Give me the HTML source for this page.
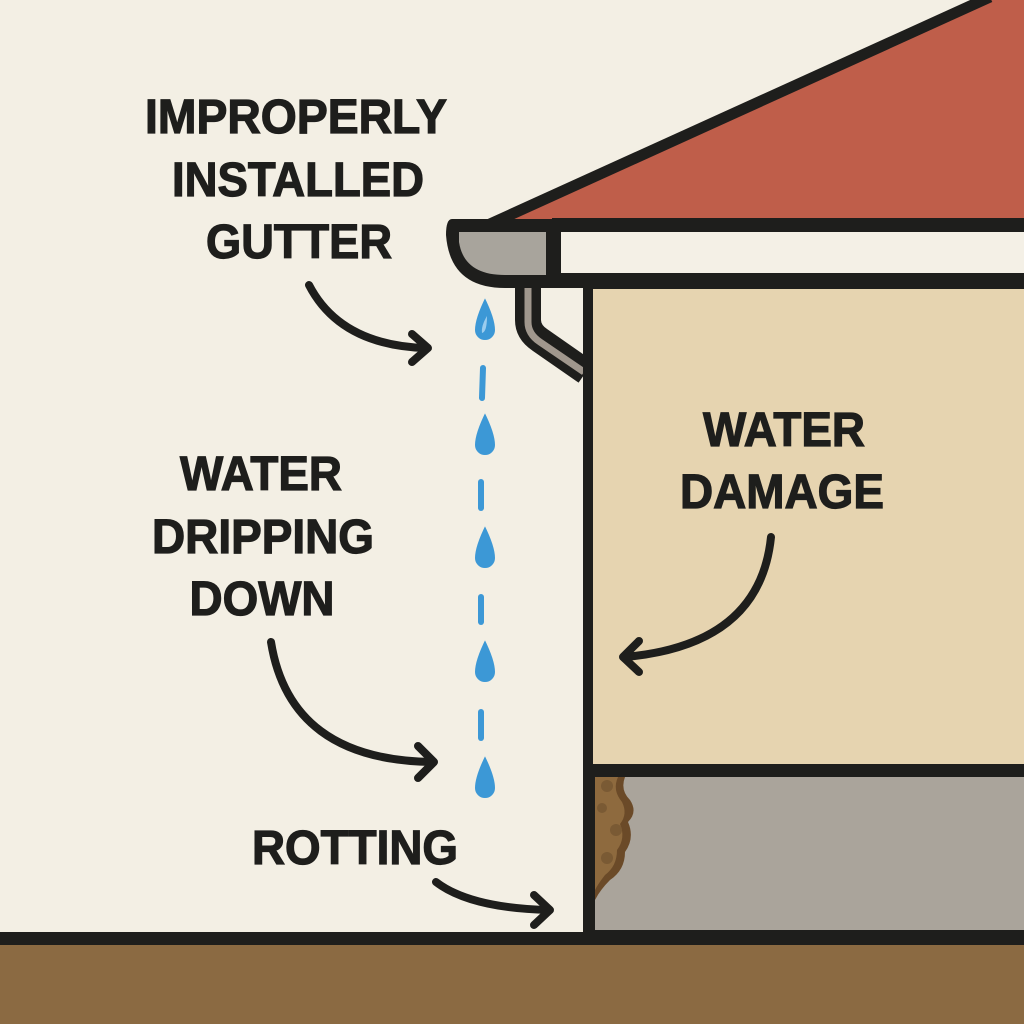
<!DOCTYPE html>
<html><head><meta charset="utf-8"><style>
html,body{margin:0;padding:0;background:#f3efe4;}
svg{display:block}
text{font-family:"Liberation Sans",sans-serif;font-weight:bold;fill:#1e1e1c;text-anchor:middle}
</style></head><body>
<svg width="1024" height="1024" viewBox="0 0 1024 1024" xmlns="http://www.w3.org/2000/svg">
<rect width="1024" height="1024" fill="#f3efe4"/>
<!-- roof -->
<polygon points="505,222 1024,222 1024,-10 1005,-10" fill="#bf5e4a"/>
<line x1="490" y1="224" x2="990" y2="-3" stroke="#1e1e1c" stroke-width="11"/>
<!-- fascia -->
<rect x="552" y="218" width="472" height="70" fill="#1e1e1c"/>
<rect x="561" y="232" width="463" height="41" fill="#f4f0e6"/>
<!-- downspout -->
<path d="M528,285 V320 Q528,332 540,340 L586,372" fill="none" stroke="#1e1e1c" stroke-width="26" stroke-linejoin="round"/>
<path d="M528,288 V322 Q528,334 540,342 L584,372" fill="none" stroke="#a0978d" stroke-width="7"/>
<!-- gutter -->
<path d="M452,219 H555 V288 H505 Q450,288 446,235 Q446,219 452,219 Z" fill="#1e1e1c"/>
<path d="M459,232 H546 V275 H505 Q464,275 459,242 Z" fill="#a8a49c"/>
<!-- wall -->
<rect x="583" y="283" width="441" height="660" fill="#1e1e1c"/>
<rect x="593" y="289" width="431" height="475" fill="#e6d4b0"/>
<rect x="595" y="777" width="429" height="153" fill="#aaa49b"/>
<!-- rot -->
<path d="M595,777 H625 Q620,790 630,800 Q638,812 628,822 Q635,838 625,852 Q625,870 610,880 Q600,890 595,900 Z" fill="#6b4a28"/>
<path d="M595,777 H618 Q612,790 622,802 Q628,814 620,824 Q626,838 617,850 Q617,866 605,875 Q598,884 595,890 Z" fill="#8e6a3e"/>
<circle cx="607" cy="786" r="6" fill="#7a5a34"/><circle cx="602" cy="808" r="5" fill="#7a5a34"/><circle cx="616" cy="830" r="6" fill="#7a5a34"/><circle cx="607" cy="858" r="6" fill="#7a5a34"/>
<!-- ground -->
<rect x="0" y="932" width="1024" height="13" fill="#1e1e1c"/>
<rect x="0" y="945" width="1024" height="79" fill="#8b6a42"/>
<!-- drops -->
<g fill="#3c98d6" stroke="#f3efe4" stroke-width="2">
<path id="d" d="M485,296 Q474,318 474,330 A11,11 0 0 0 496,330 Q496,318 485,296 Z"/>
<use href="#d" y="115"/><use href="#d" y="228"/><use href="#d" y="342"/><use href="#d" y="458"/>
</g>
<g fill="#9ccdee"><path d="M487,316 Q481,326 482,333 Q487,332 487,316Z"/></g>
<g stroke="#3c98d6" stroke-width="6" stroke-linecap="round">
<line x1="483" y1="368" x2="482" y2="398"/><line x1="481" y1="482" x2="481" y2="508"/><line x1="481" y1="597" x2="481" y2="622"/><line x1="481" y1="712" x2="481" y2="738"/>
</g>
<!-- arrows -->
<g fill="none" stroke="#1e1e1c" stroke-width="8" stroke-linecap="round" stroke-linejoin="round">
<path d="M309,285 Q340,345 425,348"/><path d="M412,334 L428,348 L412,362"/>
<path d="M271,642 Q290,760 432,762"/><path d="M418,746 L434,762 L418,778"/>
<path d="M771,537 Q760,645 625,657"/><path d="M639,641 L623,657 L639,672"/>
<path d="M436,882 Q470,908 548,910"/><path d="M534,895 L550,910 L534,925"/>
</g>
<!-- labels -->
<g font-size="48" stroke="#1e1e1c" stroke-width="1.2">
<text x="296" y="133" textLength="302" lengthAdjust="spacingAndGlyphs">IMPROPERLY</text>
<text x="298" y="196" textLength="252" lengthAdjust="spacingAndGlyphs">INSTALLED</text>
<text x="299" y="258" textLength="186" lengthAdjust="spacingAndGlyphs">GUTTER</text>
<text x="261" y="490" textLength="162" lengthAdjust="spacingAndGlyphs">WATER</text>
<text x="263" y="553" textLength="222" lengthAdjust="spacingAndGlyphs">DRIPPING</text>
<text x="262" y="615" textLength="145" lengthAdjust="spacingAndGlyphs">DOWN</text>
<text x="784" y="446" textLength="162" lengthAdjust="spacingAndGlyphs">WATER</text>
<text x="782" y="508" textLength="204" lengthAdjust="spacingAndGlyphs">DAMAGE</text>
<text x="355" y="864" textLength="206" lengthAdjust="spacingAndGlyphs">ROTTING</text>
</g>
</svg>
</body></html>
